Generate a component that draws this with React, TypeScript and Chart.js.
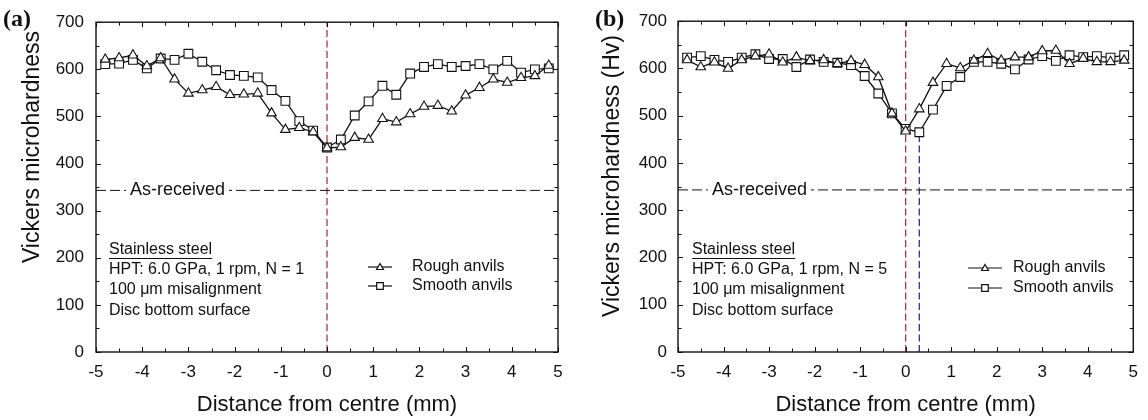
import React, { useEffect, useRef } from 'react';
import { Chart, registerables } from 'chart.js';

Chart.register(...registerables);

// Distance from centre (mm)
const positions = [
  -4.8, -4.5, -4.2, -3.9, -3.6, -3.3, -3.0, -2.7, -2.4, -2.1, -1.8, -1.5, -1.2, -0.9, -0.6, -0.3,
  0.0, 0.3, 0.6, 0.9, 1.2, 1.5, 1.8, 2.1, 2.4, 2.7, 3.0, 3.3, 3.6, 3.9, 4.2, 4.5, 4.8,
];

// Panel (a): N = 1
const roughA = [
  621, 624, 630, 607, 624, 579, 549, 556, 563, 546, 547, 549, 507, 472, 476, 467,
  433, 435, 455, 451, 495, 488, 505, 521, 523, 511, 545, 561, 579, 572, 582, 586, 608,
];
const smoothA = [
  611, 612, 620, 602, 623, 620, 633, 616, 598, 588, 586, 583, 556, 533, 490, 470,
  434, 451, 502, 532, 565, 546, 591, 605, 611, 605, 607, 611, 600, 618, 593, 600, 602,
];

// Panel (b): N = 5
const roughB = [
  618, 603, 613, 600, 618, 626, 630, 613, 624, 616, 618, 610, 616, 608, 582, 505,
  467, 514, 570, 610, 601, 617, 631, 617, 624, 624, 637, 638, 610, 621, 614, 614, 617,
];
const smoothB = [
  623, 626, 618, 614, 623, 630, 620, 620, 603, 619, 614, 612, 607, 584, 547, 505,
  472, 465, 513, 563, 582, 614, 614, 610, 598, 619, 626, 616, 628, 624, 626, 623, 628,
];

const asReceivedHv = 343;
const centreLineX = 0;
const offsetLineX = 0.3;
const offsetLineTop = 462;

const xRange = [-5, 5];
const yRange = [0, 700];

const SANS = "'Liberation Sans', Arial, sans-serif";
const SERIF = "'Liberation Serif', 'Times New Roman', serif";
const INK = '#111111';

type PanelCfg = {
  label: string;
  labelX: number;
  rough: number[];
  smooth: number[];
  offsetLine: boolean;
  plotLeft: number;
  padRight: number;
  yTitle: string;
  yTitleX: number;
  yTitleY: number;
  asTextX: number;
  notesX: number;
  notes: string[];
  legLine: [number, number];
  legText: number;
  legRows: [number, number];
  tickPad: number;
};

function triangle(ctx: CanvasRenderingContext2D, x: number, y: number, r: number) {
  ctx.beginPath();
  ctx.moveTo(x, y - r);
  ctx.lineTo(x + r * 0.866, y + r / 2);
  ctx.lineTo(x - r * 0.866, y + r / 2);
  ctx.closePath();
  ctx.fillStyle = '#fff';
  ctx.fill();
  ctx.stroke();
}
function square(ctx: CanvasRenderingContext2D, x: number, y: number, s: number) {
  ctx.beginPath();
  ctx.rect(x - s, y - s, 2 * s, 2 * s);
  ctx.fillStyle = '#fff';
  ctx.fill();
  ctx.stroke();
}

function makeDecor(cfg: PanelCfg) {
  return {
    id: 'decor',
    afterDatasetsDraw(chart: any) {
      const ctx: CanvasRenderingContext2D = chart.ctx;
      const xs = chart.scales.x;
      const ys = chart.scales.y;
      const { left, right, top, bottom } = chart.chartArea;
      ctx.save();

      // As-received label with mask
      const ay = ys.getPixelForValue(asReceivedHv);
      ctx.font = `18px ${SANS}`;
      const tw = ctx.measureText('As-received').width;
      ctx.fillStyle = '#fff';
      ctx.fillRect(cfg.asTextX - 4, ay - 4, tw + 8, 8);
      ctx.fillStyle = INK;
      ctx.textBaseline = 'middle';
      ctx.textAlign = 'left';
      ctx.fillText('As-received', cfg.asTextX, ay);

      // Box
      ctx.strokeStyle = INK;
      ctx.lineWidth = 1.4;
      ctx.strokeRect(left, top, right - left, bottom - top);

      // Inward ticks
      ctx.lineWidth = 1;
      ctx.beginPath();
      for (let i = xRange[0] * 2; i <= xRange[1] * 2; i++) {
        const v = i / 2;
        const px = Math.round(xs.getPixelForValue(v)) + 0.5;
        const len = i % 2 === 0 ? 5 : 3.5;
        ctx.moveTo(px, bottom);
        ctx.lineTo(px, bottom - len);
        ctx.moveTo(px, top);
        ctx.lineTo(px, top + len);
      }
      for (let v = yRange[0]; v <= yRange[1]; v += 50) {
        const py = Math.round(ys.getPixelForValue(v)) + 0.5;
        const len = v % 100 === 0 ? 5 : 3.5;
        ctx.moveTo(left, py);
        ctx.lineTo(left + len, py);
        ctx.moveTo(right, py);
        ctx.lineTo(right - len, py);
      }
      ctx.stroke();

      // Notes
      ctx.fillStyle = INK;
      ctx.font = `16px ${SANS}`;
      const noteRows = [250, 270, 290, 311];
      cfg.notes.forEach((t, i) => {
        ctx.fillText(t, cfg.notesX, noteRows[i]);
        if (i === 0) {
          const w = ctx.measureText(t).width;
          ctx.beginPath();
          ctx.lineWidth = 1;
          ctx.moveTo(cfg.notesX, noteRows[i] + 8.5);
          ctx.lineTo(cfg.notesX + w, noteRows[i] + 8.5);
          ctx.stroke();
        }
      });

      // Legend
      const legLabels = ['Rough anvils', 'Smooth anvils'];
      legLabels.forEach((t, i) => {
        const y = cfg.legRows[i];
        ctx.lineWidth = 1.2;
        ctx.strokeStyle = INK;
        ctx.beginPath();
        ctx.moveTo(cfg.legLine[0], y);
        ctx.lineTo(cfg.legLine[1], y);
        ctx.stroke();
        const mx = (cfg.legLine[0] + cfg.legLine[1]) / 2;
        if (i === 0) triangle(ctx, mx, y + 0.5, 4);
        else square(ctx, mx, y, 3.3);
        ctx.fillStyle = INK;
        ctx.font = `16px ${SANS}`;
        ctx.fillText(t, cfg.legText, y);
      });

      // Axis titles
      ctx.fillStyle = INK;
      ctx.font = `22px ${SANS}`;
      ctx.textAlign = 'center';
      ctx.fillText('Distance from centre (mm)', (left + right) / 2, 405);
      ctx.save();
      ctx.translate(cfg.yTitleX, cfg.yTitleY);
      ctx.rotate(-Math.PI / 2);
      ctx.font = `23px ${SANS}`;
      ctx.fillText(cfg.yTitle, 0, 0);
      ctx.restore();

      // Panel label
      ctx.textAlign = 'left';
      ctx.font = `bold 24px ${SERIF}`;
      ctx.fillText(cfg.label, cfg.labelX, 20);

      ctx.restore();
    },
  };
}

function Panel({ cfg, left }: { cfg: PanelCfg; left: number }) {
  const ref = useRef<HTMLCanvasElement | null>(null);
  useEffect(() => {
    if (!ref.current) return;
    const pts = (arr: number[]) => positions.map((x, i) => ({ x, y: arr[i] }));
    const datasets: any[] = [
      {
        data: pts(cfg.rough),
        borderColor: INK,
        borderWidth: 1.3,
        pointStyle: 'triangle',
        pointRadius: 5.5,
        pointBackgroundColor: '#fff',
        pointBorderColor: INK,
        pointBorderWidth: 1.1,
        tension: 0,
      },
      {
        data: pts(cfg.smooth),
        borderColor: INK,
        borderWidth: 1.3,
        pointStyle: 'rect',
        pointRadius: 6.2,
        pointBackgroundColor: '#fff',
        pointBorderColor: INK,
        pointBorderWidth: 1.1,
        tension: 0,
      },
      {
        data: [
          { x: xRange[0], y: asReceivedHv },
          { x: xRange[1], y: asReceivedHv },
        ],
        borderColor: INK,
        borderWidth: 1,
        borderDash: [10, 4],
        pointRadius: 0,
      },
      {
        data: [
          { x: centreLineX, y: yRange[0] },
          { x: centreLineX, y: yRange[1] },
        ],
        borderColor: '#b3323d',
        borderWidth: 1.3,
        borderDash: [7, 3.5],
        pointRadius: 0,
      },
    ];
    if (cfg.offsetLine) {
      datasets.push({
        data: [
          { x: offsetLineX, y: yRange[0] },
          { x: offsetLineX, y: offsetLineTop },
        ],
        borderColor: '#2b2f8f',
        borderWidth: 1.3,
        borderDash: [7, 3.5],
        pointRadius: 0,
      });
    }
    const chart = new Chart(ref.current, {
      type: 'line',
      data: { datasets },
      options: {
        responsive: false,
        animation: false,
        layout: { padding: { left: 0, right: cfg.padRight, top: 19, bottom: 0 } },
        plugins: { legend: { display: false }, tooltip: { enabled: false } },
        scales: {
          x: {
            type: 'linear',
            min: xRange[0],
            max: xRange[1],
            grid: { display: false, drawTicks: false },
            border: { display: false },
            ticks: { stepSize: 1, font: { size: 17, family: SANS }, color: INK, padding: 10, maxRotation: 0 },
            afterFit: (s: any) => {
              s.height = 68;
            },
          },
          y: {
            type: 'linear',
            min: yRange[0],
            max: yRange[1],
            grid: { display: false, drawTicks: false },
            border: { display: false },
            ticks: { stepSize: 100, font: { size: 17, family: SANS }, color: INK, padding: cfg.tickPad },
            afterFit: (s: any) => {
              s.width = cfg.plotLeft;
            },
          },
        },
      } as any,
      plugins: [makeDecor(cfg)],
    });
    return () => chart.destroy();
  }, [cfg]);
  return (
    <canvas
      ref={ref}
      width={574}
      height={420}
      style={{ position: 'absolute', left, top: 0, width: 574, height: 420 }}
    />
  );
}

const panelA: PanelCfg = {
  label: '(a)',
  labelX: 3,
  rough: roughA,
  smooth: smoothA,
  offsetLine: false,
  plotLeft: 96,
  padRight: 16,
  yTitle: 'Vickers microhardness',
  yTitleX: 33,
  yTitleY: 147,
  asTextX: 130,
  notesX: 109,
  notes: ['Stainless steel', 'HPT: 6.0 GPa, 1 rpm, N = 1', '100 μm misalignment', 'Disc bottom surface'],
  legLine: [368, 392],
  legText: 412,
  legRows: [267, 286],
  tickPad: 12,
};

const panelB: PanelCfg = {
  label: '(b)',
  labelX: 21,
  rough: roughB,
  smooth: smoothB,
  offsetLine: true,
  plotLeft: 104,
  padRight: 8,
  yTitle: 'Vickers microhardness (Hv)',
  yTitleX: 39,
  yTitleY: 176,
  asTextX: 138,
  notesX: 118,
  notes: ['Stainless steel', 'HPT: 6.0 GPa, 1 rpm, N = 5', '100 μm misalignment', 'Disc bottom surface'],
  legLine: [394, 428],
  legText: 439,
  legRows: [268, 288],
  tickPad: 11,
};

export default function App() {
  return (
    <div style={{ position: 'fixed', left: 0, top: 0, width: 1148, height: 420, background: '#fff' }}>
      <Panel cfg={panelA} left={0} />
      <Panel cfg={panelB} left={574} />
    </div>
  );
}
